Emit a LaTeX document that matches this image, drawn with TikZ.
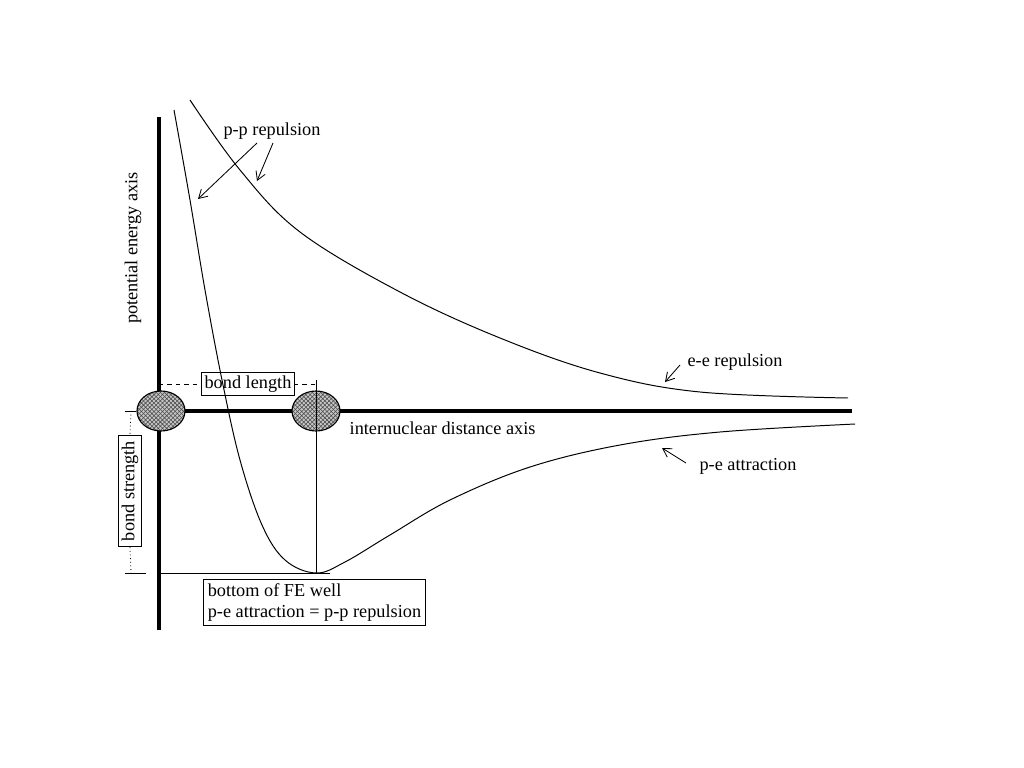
\documentclass[tikz,border=0pt]{standalone}
\usepackage{fontspec}
\setmainfont{Liberation Serif}
\usetikzlibrary{positioning, arrows.meta, patterns, shapes.geometric}

\begin{document}
\begin{tikzpicture}[
    x=0.025cm, y=-0.025cm,
    axis/.style={line width=2.6pt},
    thinline/.style={line width=0.6pt},
    curve/.style={line width=0.7pt},
    nucleus/.style={ellipse, draw, thick, preaction={fill=gray!45},
                    pattern=crosshatch, pattern color=black!70,
                    minimum width=1.2cm, minimum height=1.0cm, inner sep=0pt},
    label/.style={font=\fontsize{13}{15}\selectfont, inner sep=1pt},
    tagbox/.style={draw, thick, fill=white, font=\fontsize{13}{15}\selectfont,
                   inner sep=2pt},
    pointer/.style={thinline, -{Straight Barb[length=6pt, width=7pt]}}
]
    \useasboundingbox (0,0) rectangle (1024,768);

    % axes
    \coordinate (ytop) at (159,117);
    \coordinate (ybot) at (159,630);
    \coordinate (xend) at (852,411);
    \coordinate (origin) at (159,411);
    \draw[axis] (ytop) -- (ybot);
    \draw[axis] (origin) -- (xend);

    % nuclei
    \node[nucleus] (nucA) at (161,411) {};
    \node[nucleus] (nucB) at (316,411) {};

    % bond length
    \coordinate (blA) at (159,384);
    \coordinate (blB) at (316,384);
    \coordinate (wellB) at (316,573);
    \draw[thinline, dashed] (blA) -- (blB);
    \node[tagbox] (bondlen) at (248,384) {bond length};
    \draw[thinline] (316,380) -- (wellB);

    % bond strength
    \coordinate (tickA) at (125,411);
    \coordinate (tickB) at (125,573);
    \coordinate (wellA) at (159,573);
    \draw[thinline] (tickA) -- (nucA.west);
    \draw[thinline] (tickB) -- (146,573);
    \node[tagbox, rotate=90, inner xsep=4pt] (bondstr) at (130,491) {bond strength};
    \draw[thinline, dotted] (131,411) -- (bondstr.east);
    \draw[thinline, dotted] (bondstr.west) -- (131,573);
    \draw[thinline] (wellA) -- (330,573);

    % curves
    \draw[curve] plot[smooth, tension=0.6] coordinates {
        (174,110) (190,200) (205,290) (222,380) (240,460) (262,525)
        (285,560) (316,573) (345,562) (390,535) (450,500) (530,467)
        (620,445) (720,432) (855,424)};
    \draw[curve] plot[smooth, tension=0.6] coordinates {
        (190,100) (240,170) (300,232) (400,292) (500,338) (600,373)
        (700,392) (848,398)};

    % labels
    \node[label] (pp) at (272,131) {p-p repulsion};
    \node[label] (ee) at (735,362) {e-e repulsion};
    \node[label] (pe) at (748,466) {p-e attraction};
    \node[label, anchor=west] (xlab) at (348,428) {internuclear distance axis};
    \node[label, rotate=90] (ylab) at (133,248) {potential energy axis};
    \node[tagbox, align=left, anchor=north west, inner sep=3pt] (well) at (203,579)
        {bottom of FE well\\p-e attraction = p-p repulsion};

    % pointers
    \coordinate (ppA) at (198,199);
    \coordinate (ppB) at (257,181);
    \coordinate (eeP) at (665,382);
    \coordinate (peP) at (662,448);
    \draw[pointer] (257,143) -- (ppA);
    \draw[pointer] (273,143) -- (ppB);
    \draw[pointer] (680,365) -- (eeP);
    \draw[pointer] (686,463) -- (peP);
\end{tikzpicture}
\end{document}
